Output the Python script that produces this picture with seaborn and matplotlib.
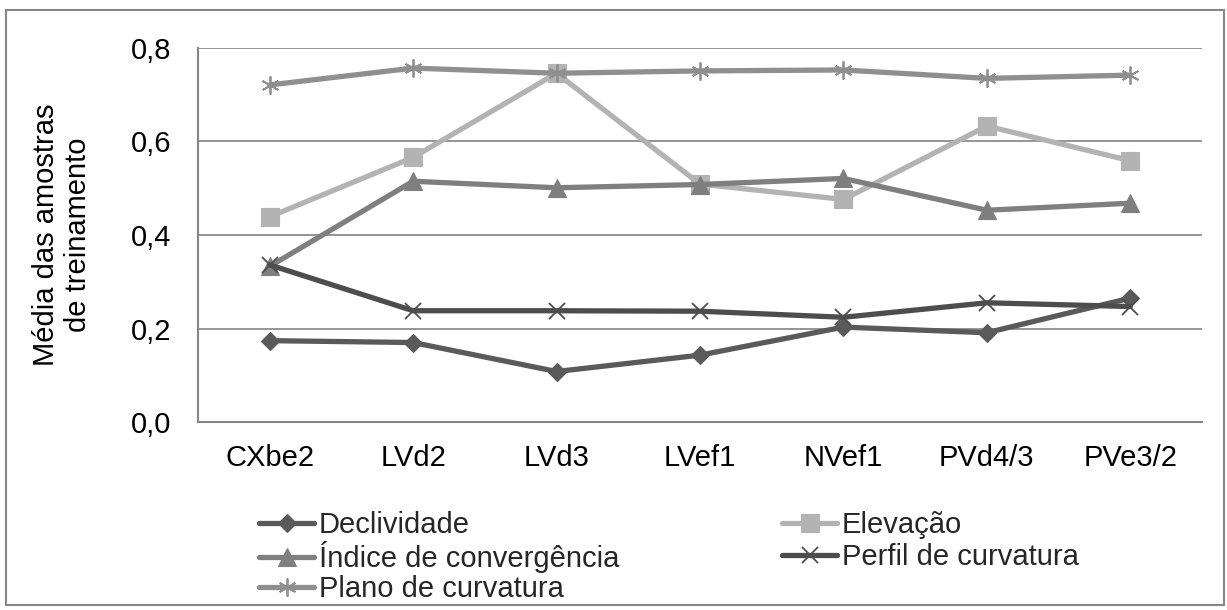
import matplotlib
matplotlib.use("Agg")
import matplotlib.pyplot as plt
from matplotlib.patches import Rectangle
from matplotlib.ticker import FuncFormatter, MultipleLocator
import pandas as pd
import seaborn as sns

# Classes de solo (eixo x)
categorias = ["CXbe2", "LVd2", "LVd3", "LVef1", "NVef1", "PVd4/3", "PVe3/2"]

# Média das amostras de treinamento por variável
declividade = [0.174, 0.170, 0.108, 0.143, 0.203, 0.191, 0.265]
elevacao = [0.439, 0.566, 0.746, 0.509, 0.476, 0.633, 0.559]
indice_convergencia = [0.333, 0.515, 0.501, 0.508, 0.521, 0.453, 0.468]
perfil_curvatura = [0.336, 0.238, 0.238, 0.237, 0.224, 0.255, 0.247]
plano_curvatura = [0.721, 0.757, 0.746, 0.751, 0.753, 0.735, 0.742]

nomes = ["Declividade", "Elevação", "Índice de convergência",
         "Perfil de curvatura", "Plano de curvatura"]
valores = [declividade, elevacao, indice_convergencia,
           perfil_curvatura, plano_curvatura]

estilos = {
    "Declividade": dict(color="#5a5a5a", marker="D", ms=9.0, mew=0.8),
    "Elevação": dict(color="#b3b3b3", marker="s", ms=12.5, mew=0.8),
    "Índice de convergência": dict(color="#7f7f7f", marker="^", ms=13.0, mew=0.8),
    "Perfil de curvatura": dict(color="#4d4d4d", marker="x", ms=12.0, mew=1.3),
    "Plano de curvatura": dict(color="#8f8f8f", marker=(6, 2, 0), ms=13.0, mew=1.3),
}

# posição (pixels) de cada entrada da legenda: início da linha, centro vertical
posicao_legenda = {
    "Declividade": (259, 525),
    "Elevação": (782, 525),
    "Índice de convergência": (259, 557),
    "Perfil de curvatura": (782, 557),
    "Plano de curvatura": (259, 589),
}

sns.set_theme(style="white")
plt.rcParams["font.family"] = ["Liberation Sans", "DejaVu Sans"]
FS = 21
W, H = 1227, 610

fig = plt.figure(figsize=(W / 100, H / 100), dpi=100)
ax = fig.add_axes([198 / W, 1 - 422 / H, (1202 - 198) / W, (422 - 48) / H])

for nome, vals in zip(nomes, valores):
    df = pd.DataFrame({"categoria": categorias, "media": vals})
    st = estilos[nome]
    sns.lineplot(data=df, x="categoria", y="media", ax=ax, sort=False,
                 color=st["color"], linewidth=3.8, marker=st["marker"],
                 markersize=st["ms"], markeredgecolor=st["color"],
                 markerfacecolor=st["color"], markeredgewidth=st["mew"],
                 label=nome)

ax.set_xlim(-0.5, len(categorias) - 0.5)
ax.set_ylim(0, 0.8)
ax.yaxis.set_major_locator(MultipleLocator(0.2))
ax.yaxis.set_major_formatter(FuncFormatter(lambda v, p: f"{v:.1f}".replace(".", ",")))
ax.grid(axis="y", color="#8c8c8c", linewidth=1.3)
ax.set_axisbelow(True)
for lado in ["top", "right"]:
    ax.spines[lado].set_visible(False)
for lado in ["left", "bottom"]:
    ax.spines[lado].set_color("#868686")
    ax.spines[lado].set_linewidth(1.5)
ax.tick_params(axis="y", length=0, pad=19, labelsize=FS, labelcolor="black")
ax.tick_params(axis="x", length=0, pad=16, labelsize=FS, labelcolor="black")
ax.set_xlabel("")
ax.set_ylabel("")

fig.text(62 / W, 1 - 235 / H, "Média das amostras\nde treinamento",
         rotation=90, ha="center", va="center", multialignment="center",
         fontsize=FS, color="black")

# Legenda: cada entrada posicionada na sua célula (2 colunas, 3 linhas)
handles, labels = ax.get_legend_handles_labels()
ax.get_legend().remove()
for h, lab in zip(handles, labels):
    x, y = posicao_legenda[lab]
    fig.legend([h], [lab], loc="center left", bbox_to_anchor=(x / W, 1 - y / H),
               frameon=False, fontsize=FS, handlelength=1.9, handletextpad=0.15,
               borderpad=0, borderaxespad=0)

fig.patches.append(Rectangle((6 / W, 5 / H), 1218 / W, 595 / H,
                             transform=fig.transFigure, fill=False,
                             edgecolor="#868686", linewidth=1.5))

fig.savefig("out.png", dpi=100)
